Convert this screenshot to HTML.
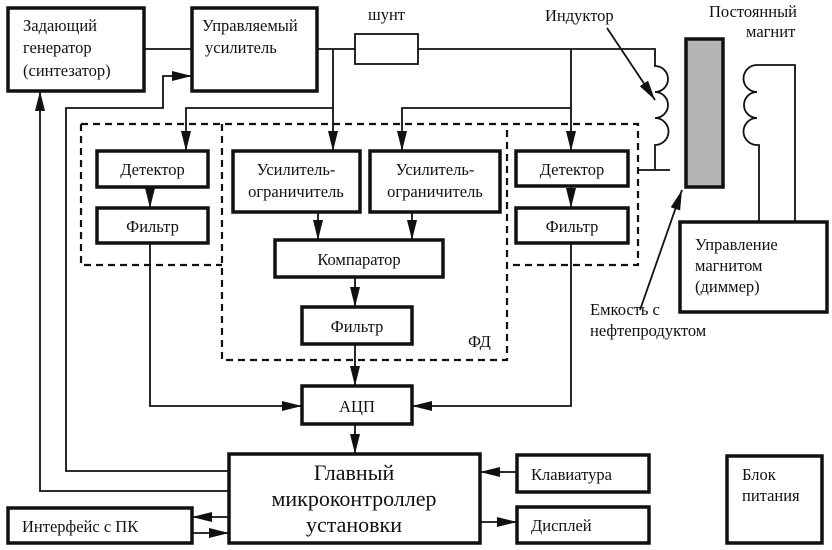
<!DOCTYPE html>
<html><head><meta charset="utf-8"><style>
html,body{margin:0;padding:0;background:#fff}
svg{display:block}
text{font-family:"Liberation Serif","DejaVu Serif",serif;fill:#111;font-size:16.5px}
</style></head><body>
<svg width="832" height="550" viewBox="0 0 832 550" xmlns="http://www.w3.org/2000/svg">
<defs>
<marker id="b" markerWidth="20" markerHeight="10" refX="20" refY="5" orient="auto" markerUnits="userSpaceOnUse"><path d="M0,0 L20,5 L0,10 Z" fill="#111"/></marker>
</defs>
<g fill="none" stroke="#111" stroke-width="3.5">
<rect x="8" y="8" width="136" height="83"/>
<rect x="192" y="8" width="125" height="83"/>
<rect x="97" y="151" width="111" height="36"/>
<rect x="97" y="208" width="111" height="35"/>
<rect x="233" y="151" width="127" height="61"/>
<rect x="370" y="151" width="130" height="61"/>
<rect x="275" y="240" width="168" height="37"/>
<rect x="516" y="151" width="112" height="35"/>
<rect x="516" y="208" width="112" height="35"/>
<rect x="302" y="307" width="110" height="37"/>
<rect x="302" y="386" width="110" height="38"/>
<rect x="229" y="454" width="251" height="89"/>
<rect x="517" y="455" width="132" height="37"/>
<rect x="517" y="507" width="132" height="36"/>
<rect x="8" y="508" width="184" height="35"/>
<rect x="727" y="456" width="95" height="87"/>
<rect x="680" y="222" width="147" height="90"/>
<rect x="686" y="39" width="37" height="148" fill="#b5b5b5"/>
</g>
<rect x="355" y="34" width="63" height="30" fill="none" stroke="#111" stroke-width="1.8"/>
<g fill="none" stroke="#111" stroke-width="2.2" stroke-dasharray="7,5">
<path d="M81,124 H638 V265 H507"/>
<path d="M81,124 V265 H222"/>
<path d="M222,124 V360 H507 V124"/>
</g>
<g fill="none" stroke="#111" stroke-width="1.8">
<path d="M144,49 H192"/>
<path d="M317,49 H355"/>
<path d="M418,49 H655 V66 A13,13 0 0 1 655,92 A13,13 0 0 1 655,118 A13,13 0 0 1 655,145 V170"/>
<path d="M638,170 H670"/>
<path d="M795,222 V65 H757 A13,13 0 0 0 757,92 A13,13 0 0 0 757,118 A13,13 0 0 0 757,145 H759 V222"/>
<path d="M333,49 V151" marker-end="url(#b)"/>
<path d="M333,108 H186 V151" marker-end="url(#b)"/>
<path d="M571,49 V151" marker-end="url(#b)"/>
<path d="M571,108 H402 V151" marker-end="url(#b)"/>
<path d="M150,187 V208" marker-end="url(#b)"/>
<path d="M571,186 V208" marker-end="url(#b)"/>
<path d="M318,212 V240" marker-end="url(#b)"/>
<path d="M412,212 V240" marker-end="url(#b)"/>
<path d="M355,277 V307" marker-end="url(#b)"/>
<path d="M355,344 V386" marker-end="url(#b)"/>
<path d="M355,424 V454" marker-end="url(#b)"/>
<path d="M150,243 V406 H302" marker-end="url(#b)"/>
<path d="M571,243 V406 H412" marker-end="url(#b)"/>
<path d="M229,471 H66 V108 H163 V76 H192" marker-end="url(#b)"/>
<path d="M229,491 H40 V91" marker-end="url(#b)"/>
<path d="M517,472 H480" marker-end="url(#b)"/>
<path d="M480,522 H517" marker-end="url(#b)"/>
<path d="M229,517 H192" marker-end="url(#b)"/>
<path d="M192,533 H229" marker-end="url(#b)"/>
<path d="M607,28 L655,100" marker-end="url(#b)"/>
<path d="M640,310 L682,190" marker-end="url(#b)"/>
</g>
<text x="23" y="31">Задающий</text>
<text x="23" y="53">генератор</text>
<text x="23" y="76">(синтезатор)</text>
<text x="202" y="31">Управляемый</text>
<text x="205" y="53">усилитель</text>
<text x="368" y="20">шунт</text>
<text x="545" y="21">Индуктор</text>
<text x="709" y="17">Постоянный</text>
<text x="746" y="37">магнит</text>
<text x="152.5" y="175" text-anchor="middle">Детектор</text>
<text x="152.5" y="232" text-anchor="middle">Фильтр</text>
<text x="296" y="175" text-anchor="middle">Усилитель-</text>
<text x="296" y="197" text-anchor="middle">ограничитель</text>
<text x="435" y="175" text-anchor="middle">Усилитель-</text>
<text x="435" y="197" text-anchor="middle">ограничитель</text>
<text x="359" y="265" text-anchor="middle">Компаратор</text>
<text x="572" y="175" text-anchor="middle">Детектор</text>
<text x="572" y="232" text-anchor="middle">Фильтр</text>
<text x="357" y="332" text-anchor="middle">Фильтр</text>
<text x="468" y="347">ФД</text>
<text x="357" y="412" text-anchor="middle">АЦП</text>
<text x="695" y="250">Управление</text>
<text x="695" y="271">магнитом</text>
<text x="695" y="292">(диммер)</text>
<text x="590" y="315">Емкость с</text>
<text x="590" y="336">нефтепродуктом</text>
<text x="354" y="480" text-anchor="middle" style="font-size:22px">Главный</text>
<text x="354" y="506" text-anchor="middle" style="font-size:22px">микроконтроллер</text>
<text x="354" y="532" text-anchor="middle" style="font-size:22px">установки</text>
<text x="531" y="480">Клавиатура</text>
<text x="531" y="531">Дисплей</text>
<text x="22" y="532">Интерфейс с ПК</text>
<text x="742" y="480">Блок</text>
<text x="742" y="501">питания</text>
</svg>
</body></html>
